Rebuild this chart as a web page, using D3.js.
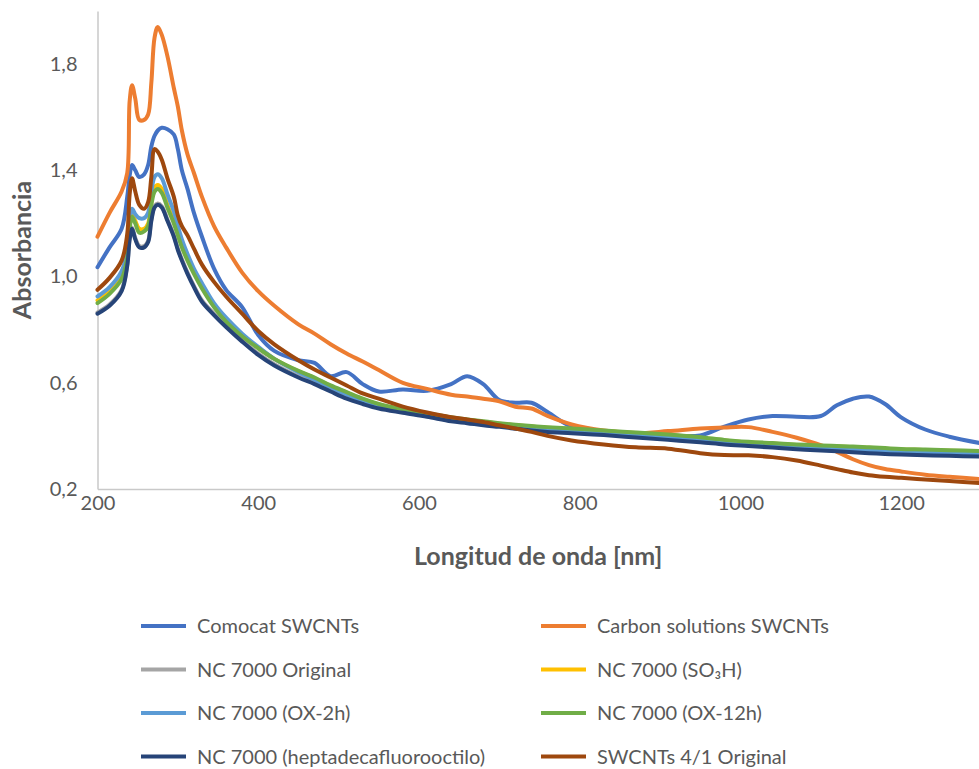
<!DOCTYPE html>
<html>
<head>
<meta charset="utf-8">
<script src="https://cdn.jsdelivr.net/npm/d3@7"></script>
<style>
  body { margin: 0; background: #fff; }
  text { font-family: Lato, "Noto Sans", sans-serif; fill: #595959; }
</style>
</head>
<body>
<div id="vis"></div>
<script>
// wavelengths [nm] shared by every series
const wavelengths = [200, 215, 230, 237, 240, 243, 247, 252, 258, 263, 267, 271, 275, 280, 287, 295, 300, 305, 312, 320, 330, 345, 360, 380, 400, 420, 450, 470, 490, 510, 530, 550, 580, 610, 640, 660, 680, 700, 720, 740, 760, 790, 830, 870, 910, 950, 980, 1010, 1040, 1070, 1100, 1120, 1140, 1160, 1180, 1200, 1230, 1260, 1300];

const comocat = [1.035, 1.11, 1.18, 1.30, 1.38, 1.42, 1.40, 1.375, 1.385, 1.42, 1.49, 1.53, 1.55, 1.56, 1.555, 1.535, 1.48, 1.40, 1.33, 1.24, 1.15, 1.03, 0.95, 0.885, 0.78, 0.72, 0.685, 0.675, 0.625, 0.64, 0.595, 0.567, 0.575, 0.57, 0.595, 0.625, 0.595, 0.535, 0.525, 0.525, 0.49, 0.435, 0.417, 0.408, 0.402, 0.402, 0.435, 0.462, 0.475, 0.472, 0.475, 0.515, 0.54, 0.548, 0.52, 0.47, 0.424, 0.397, 0.372];
const carbonSolutions = [1.15, 1.24, 1.32, 1.39, 1.66, 1.72, 1.67, 1.59, 1.59, 1.61, 1.73, 1.90, 1.94, 1.91, 1.83, 1.71, 1.64, 1.55, 1.46, 1.39, 1.30, 1.19, 1.11, 1.015, 0.945, 0.89, 0.82, 0.785, 0.745, 0.71, 0.68, 0.648, 0.60, 0.577, 0.555, 0.548, 0.54, 0.53, 0.51, 0.503, 0.475, 0.443, 0.42, 0.41, 0.418, 0.428, 0.432, 0.433, 0.415, 0.393, 0.365, 0.34, 0.312, 0.29, 0.275, 0.266, 0.254, 0.246, 0.237];
const ncOriginal = [0.865, 0.895, 0.95, 1.045, 1.145, 1.185, 1.145, 1.115, 1.115, 1.135, 1.215, 1.265, 1.275, 1.265, 1.215, 1.155, 1.105, 1.065, 1.015, 0.965, 0.91, 0.86, 0.815, 0.76, 0.71, 0.67, 0.624, 0.599, 0.571, 0.544, 0.524, 0.507, 0.49, 0.475, 0.458, 0.451, 0.443, 0.437, 0.43, 0.423, 0.418, 0.413, 0.406, 0.397, 0.388, 0.379, 0.371, 0.365, 0.359, 0.353, 0.348, 0.345, 0.341, 0.338, 0.335, 0.333, 0.33, 0.328, 0.325];
const ncSO3H = [0.91, 0.945, 1.0, 1.08, 1.19, 1.235, 1.21, 1.18, 1.18, 1.20, 1.28, 1.335, 1.345, 1.33, 1.27, 1.21, 1.165, 1.12, 1.07, 1.02, 0.962, 0.89, 0.835, 0.778, 0.732, 0.69, 0.643, 0.618, 0.588, 0.563, 0.538, 0.518, 0.498, 0.483, 0.468, 0.46, 0.453, 0.446, 0.44, 0.435, 0.431, 0.426, 0.418, 0.411, 0.403, 0.393, 0.383, 0.376, 0.371, 0.366, 0.362, 0.36, 0.358, 0.355, 0.352, 0.349, 0.347, 0.344, 0.341];
const ncOX2h = [0.925, 0.96, 1.02, 1.10, 1.21, 1.255, 1.235, 1.22, 1.22, 1.24, 1.32, 1.375, 1.385, 1.37, 1.31, 1.245, 1.19, 1.14, 1.085, 1.03, 0.975, 0.90, 0.845, 0.785, 0.735, 0.69, 0.64, 0.612, 0.583, 0.556, 0.533, 0.514, 0.495, 0.479, 0.465, 0.457, 0.449, 0.442, 0.435, 0.429, 0.424, 0.419, 0.412, 0.404, 0.396, 0.387, 0.378, 0.371, 0.365, 0.36, 0.355, 0.352, 0.349, 0.346, 0.343, 0.341, 0.338, 0.336, 0.334];
const ncOX12h = [0.90, 0.935, 0.99, 1.07, 1.18, 1.225, 1.20, 1.165, 1.17, 1.19, 1.27, 1.32, 1.33, 1.315, 1.26, 1.20, 1.155, 1.11, 1.06, 1.01, 0.955, 0.885, 0.83, 0.775, 0.73, 0.69, 0.645, 0.62, 0.59, 0.565, 0.54, 0.52, 0.50, 0.485, 0.47, 0.462, 0.455, 0.448, 0.442, 0.437, 0.433, 0.428, 0.42, 0.413, 0.405, 0.395, 0.385, 0.378, 0.373, 0.368, 0.364, 0.362, 0.36, 0.357, 0.354, 0.351, 0.349, 0.346, 0.343];
const ncHepta = [0.86, 0.89, 0.945, 1.04, 1.14, 1.18, 1.14, 1.11, 1.11, 1.13, 1.21, 1.26, 1.27, 1.26, 1.21, 1.15, 1.10, 1.06, 1.01, 0.96, 0.905, 0.855, 0.81, 0.755, 0.705, 0.665, 0.62, 0.595, 0.567, 0.54, 0.52, 0.503, 0.487, 0.472, 0.455, 0.448, 0.44, 0.434, 0.427, 0.42, 0.415, 0.41, 0.403, 0.394, 0.385, 0.376, 0.368, 0.362, 0.356, 0.35, 0.345, 0.342, 0.338, 0.335, 0.332, 0.33, 0.327, 0.325, 0.322];
const swcnt41 = [0.95, 0.995, 1.06, 1.16, 1.31, 1.37, 1.32, 1.27, 1.255, 1.28, 1.375, 1.48, 1.47, 1.44, 1.37, 1.30, 1.23, 1.19, 1.155, 1.105, 1.045, 0.98, 0.925, 0.86, 0.795, 0.745, 0.685, 0.65, 0.62, 0.59, 0.56, 0.54, 0.51, 0.488, 0.47, 0.462, 0.452, 0.44, 0.428, 0.415, 0.40, 0.383, 0.368, 0.357, 0.352, 0.335, 0.328, 0.327, 0.32, 0.307, 0.288, 0.275, 0.262, 0.252, 0.246, 0.242, 0.236, 0.23, 0.222];

const seriesNames = ['Comocat SWCNTs', 'Carbon solutions SWCNTs', 'NC 7000 Original', 'NC 7000 (SO\u2083H)', 'NC 7000 (OX-2h)', 'NC 7000 (OX-12h)', 'NC 7000 (heptadecafluorooctilo)', 'SWCNTs 4/1 Original'];
const seriesValues = [comocat, carbonSolutions, ncOriginal, ncSO3H, ncOX2h, ncOX12h, ncHepta, swcnt41];
const seriesColours = ['#4472C4', '#ED7D31', '#A5A5A5', '#FFC000', '#5B9BD5', '#70AD47', '#264478', '#9E480E'];

const xTicks = [200, 400, 600, 800, 1000, 1200];
const yTicks = [0.2, 0.6, 1.0, 1.4, 1.8];

const width = 979;
const height = 769;
const plot = { left: 97.5, right: 981.5, top: 11, bottom: 489 };

const $svg = d3.select('#vis').append('svg')
  .attr('width', width)
  .attr('height', height);

const x = d3.scaleLinear().domain([200, 1300]).range([plot.left, plot.right]);
const y = d3.scaleLinear().domain([0.2, 2.0]).range([plot.bottom, plot.top]);

const fmt = d => d3.format('.1f')(d).replace('.', ',');

// axes
const $xAxis = $svg.append('g')
  .attr('transform', `translate(0, ${plot.bottom})`)
  .call(d3.axisBottom(x).tickValues(xTicks).tickSize(0).tickPadding(7).tickFormat(d3.format('d')));

const $yAxis = $svg.append('g')
  .attr('transform', `translate(${plot.left}, 0)`)
  .call(d3.axisLeft(y).tickValues(yTicks).tickSize(0).tickPadding(20).tickFormat(fmt));

[$xAxis, $yAxis].forEach(g => {
  g.select('.domain').attr('stroke', '#c9c9c9').attr('stroke-width', 1.5);
  g.selectAll('text').attr('font-size', 20).attr('font-family', 'Lato, sans-serif').attr('fill', '#595959');
});

// lines
const data = seriesNames.map((name, i) => ({
  name,
  colour: seriesColours[i],
  values: wavelengths.map((w, j) => ({ w, a: seriesValues[i][j] }))
}));

const line = d3.line()
  .x(d => x(d.w))
  .y(d => y(d.a))
  .curve(d3.curveCatmullRom.alpha(0.5));

$svg.append('g')
  .selectAll('path')
  .data(data)
  .enter()
  .append('path')
  .attr('d', d => line(d.values))
  .attr('fill', 'none')
  .attr('stroke', d => d.colour)
  .attr('stroke-width', 4)
  .attr('stroke-linejoin', 'round')
  .attr('stroke-linecap', 'round');

// axis titles
$svg.append('text')
  .attr('x', (plot.left + 979) / 2)
  .attr('y', 565)
  .attr('text-anchor', 'middle')
  .attr('font-size', 25)
  .attr('font-weight', 700)
  .text('Longitud de onda [nm]');

$svg.append('text')
  .attr('transform', `translate(31, ${(plot.top + plot.bottom) / 2}) rotate(-90)`)
  .attr('text-anchor', 'middle')
  .attr('font-size', 25)
  .attr('font-weight', 700)
  .text('Absorbancia');

// legend, two columns
const $legend = $svg.append('g')
  .selectAll('g')
  .data(data)
  .enter()
  .append('g')
  .attr('transform', (d, i) => `translate(${i % 2 ? 541 : 141}, ${626 + Math.floor(i / 2) * 43.5})`);

$legend.append('line')
  .attr('x1', 0)
  .attr('x2', 45)
  .attr('stroke', d => d.colour)
  .attr('stroke-width', 4);

$legend.append('text')
  .attr('x', 56)
  .attr('dy', '0.35em')
  .attr('font-size', 20)
  .text(d => d.name);
</script>
</body>
</html>
